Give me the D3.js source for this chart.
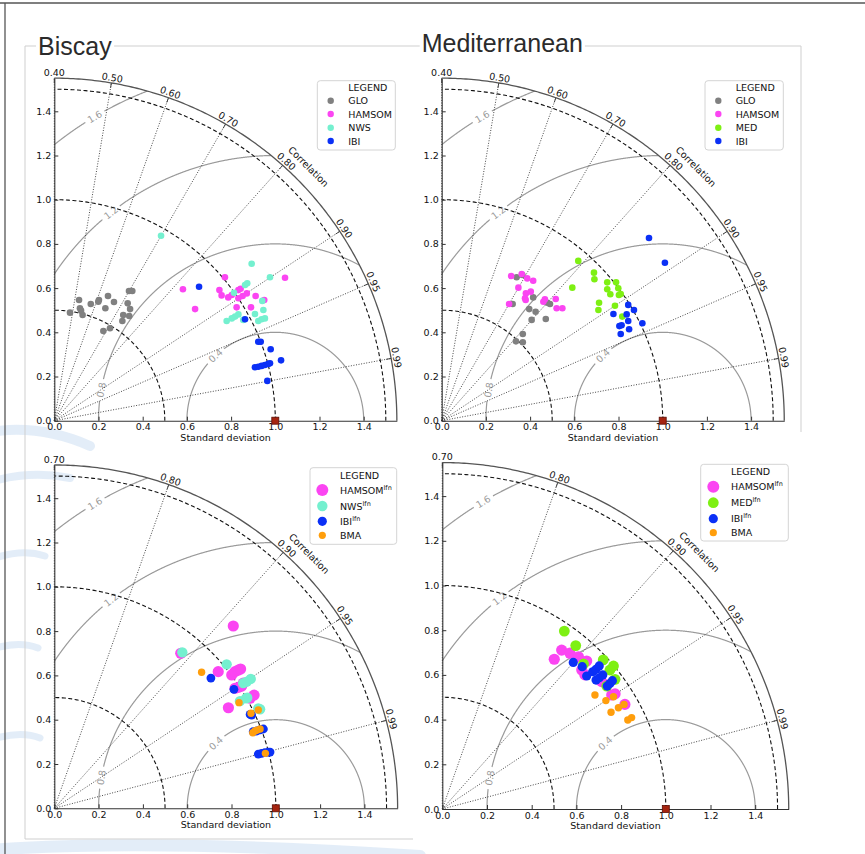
<!DOCTYPE html>
<html><head><meta charset="utf-8">
<script src="https://cdn.jsdelivr.net/npm/d3@7"></script>
<style>
body{margin:0;background:#fff}
svg{display:block}
text{font-family:"DejaVu Sans",sans-serif;fill:#111}
</style>
</head><body>
<svg id="c" width="865" height="854"></svg>
<script>
// ---------------- data (x, y read on the standard-deviation axes) ----------------
const stdTicks = [0, 0.2, 0.4, 0.6, 0.8, 1.0, 1.2, 1.4];
const stdArcs = [0.5, 1.0, 1.5];
const rmsLevels = [0.4, 0.8, 1.2, 1.6];
const corrTicksTop = [0.40, 0.50, 0.60, 0.70, 0.80, 0.90, 0.95, 0.99];
const corrTicksBottom = [0.70, 0.80, 0.90, 0.95, 0.99];

// Biscay – single models
const biscayGLO = [[0.071,0.489],[0.112,0.546],[0.116,0.509],[0.121,0.498],[0.128,0.478],[0.165,0.528],[0.199,0.538],[0.202,0.546],[0.231,0.509],[0.243,0.564],[0.270,0.537],[0.222,0.406],[0.252,0.418],[0.308,0.451],[0.312,0.478],[0.332,0.531],[0.339,0.474],[0.343,0.505],[0.338,0.587],[0.353,0.587]];
const biscayHAMSOM = [[0.582,0.595],[0.637,0.505],[0.772,0.649],[0.747,0.591],[0.757,0.567],[0.787,0.558],[0.803,0.569],[0.833,0.591],[0.843,0.597],[0.833,0.554],[0.852,0.564],[0.871,0.576],[0.911,0.564],[0.825,0.513],[0.890,0.513],[0.950,0.546],[1.044,0.647]];
const biscayNWS = [[0.483,0.837],[0.893,0.710],[0.976,0.649],[0.873,0.622],[0.863,0.614],[0.813,0.579],[0.941,0.542],[0.946,0.501],[0.908,0.483],[0.833,0.481],[0.818,0.471],[0.803,0.463],[0.780,0.451],[0.855,0.456],[0.923,0.451],[0.938,0.459],[0.953,0.463]];
const biscayIBI = [[0.655,0.606],[0.863,0.459],[0.923,0.357],[0.934,0.357],[0.979,0.323],[1.026,0.273],[0.908,0.242],[0.923,0.244],[0.938,0.248],[0.953,0.252],[0.968,0.257],[0.976,0.260],[0.964,0.180]];

// Mediterranean – single models
const medGLO = [[0.339,0.649],[0.365,0.659],[0.321,0.528],[0.414,0.558],[0.396,0.505],[0.425,0.493],[0.407,0.456],[0.471,0.460],[0.490,0.528],[0.478,0.534],[0.367,0.392],[0.336,0.359],[0.367,0.355]];
const medHAMSOM = [[0.314,0.655],[0.362,0.664],[0.387,0.644],[0.414,0.633],[0.347,0.602],[0.381,0.576],[0.403,0.584],[0.377,0.554],[0.380,0.546],[0.305,0.528],[0.467,0.549],[0.460,0.538],[0.516,0.551],[0.520,0.509],[0.546,0.509]];
const medMED = [[0.618,0.723],[0.689,0.670],[0.691,0.640],[0.591,0.602],[0.749,0.626],[0.789,0.626],[0.749,0.595],[0.763,0.572],[0.799,0.599],[0.802,0.569],[0.810,0.573],[0.712,0.534],[0.709,0.501],[0.784,0.520],[0.817,0.471]];
const medIBI = [[0.938,0.827],[1.010,0.715],[0.844,0.524],[0.870,0.501],[0.777,0.483],[0.837,0.481],[0.844,0.451],[0.908,0.441],[0.804,0.428],[0.814,0.432],[0.848,0.414],[0.810,0.392]];

// Biscay – lfn ensembles + BMA
const biscayHAMSOMlfn = [[0.808,0.823],[0.571,0.700],[0.740,0.617],[0.801,0.602],[0.816,0.617],[0.831,0.624],[0.841,0.629],[0.816,0.542],[0.831,0.546],[0.846,0.552],[0.853,0.565],[0.884,0.497],[0.902,0.511],[0.786,0.454]];
const biscayNWSlfn = [[0.578,0.704],[0.778,0.650],[0.853,0.565],[0.869,0.572],[0.887,0.584],[0.866,0.497],[0.871,0.499],[0.838,0.484],[0.929,0.447],[0.921,0.451]];
const biscayIBIlfn = [[0.707,0.588],[0.811,0.537],[0.884,0.424],[0.891,0.421],[0.898,0.346],[0.914,0.349],[0.929,0.354],[0.944,0.358],[0.921,0.245],[0.936,0.248],[0.951,0.251],[0.966,0.253],[0.974,0.254]];
const biscayBMA = [[0.665,0.614],[0.834,0.477],[0.888,0.429],[0.921,0.444],[0.896,0.341],[0.906,0.349],[0.916,0.353],[0.929,0.358],[0.953,0.248]];

// Mediterranean – lfn ensembles + BMA
const medHAMSOMlfn = [[0.501,0.670],[0.534,0.711],[0.571,0.697],[0.609,0.681],[0.646,0.662],[0.624,0.622],[0.638,0.600],[0.713,0.570],[0.758,0.510],[0.773,0.515],[0.817,0.468]];
const medMEDlfn = [[0.546,0.796],[0.597,0.731],[0.632,0.649],[0.720,0.667],[0.766,0.640],[0.750,0.622],[0.773,0.580],[0.736,0.550]];
const medIBIlfn = [[0.586,0.656],[0.626,0.637],[0.646,0.595],[0.673,0.614],[0.688,0.625],[0.702,0.640],[0.688,0.577],[0.702,0.587],[0.718,0.600],[0.738,0.550],[0.750,0.562],[0.761,0.574]];
const medBMA = [[0.683,0.510],[0.732,0.485],[0.766,0.502],[0.755,0.433],[0.788,0.453],[0.813,0.468],[0.830,0.398],[0.847,0.409]];

const refPoint = [1.0, 0.0];

// ---------------- styling / layout ----------------
const C = {GLO:"#808080", HAMSOM:"#fb45f2", NWS:"#74f0cf", MED:"#7ef013", IBI:"#0b30f6", BMA:"#ff9e0c"};
const RMAX = 1.55;

const panels = [
  {title:"Biscay", tx:38, ty:55, ox:54.3, oy:420.7, s:221, cmin:0.4, ticks:corrTicksTop,
   leg:{x:317.3,y:80.7,w:78,h:69.3,titleY:90.5,mx:330.7,tx:348.3,ys:[100.7,114,127.7,141]},
   series:[
     {name:"GLO",c:C.GLO,r:3.3,lr:3.2,d:biscayGLO},
     {name:"HAMSOM",c:C.HAMSOM,r:3.3,lr:3.2,d:biscayHAMSOM},
     {name:"NWS",c:C.NWS,r:3.3,lr:3.2,d:biscayNWS},
     {name:"IBI",c:C.IBI,r:3.3,lr:3.2,d:biscayIBI}]},
  {title:"Mediterranean", tx:421.7, ty:52, ox:441.7, oy:420.7, s:221, cmin:0.4, ticks:corrTicksTop,
   leg:{x:705,y:80.7,w:78.3,h:69.3,titleY:90.5,mx:718.3,tx:735.7,ys:[100.7,114,127.7,141]},
   series:[
     {name:"GLO",c:C.GLO,r:3.3,lr:3.2,d:medGLO},
     {name:"HAMSOM",c:C.HAMSOM,r:3.3,lr:3.2,d:medHAMSOM},
     {name:"MED",c:C.MED,r:3.3,lr:3.2,d:medMED},
     {name:"IBI",c:C.IBI,r:3.3,lr:3.2,d:medIBI}]},
  {title:null, ox:54.3, oy:808.3, s:221.5, cmin:0.7, ticks:corrTicksBottom,
   leg:{x:310,y:467.7,w:86.7,h:76.6,titleY:478.5,mx:322.3,tx:340,ys:[490,506,521.3,535.3]},
   series:[
     {name:"HAMSOM",sup:"lfn",c:C.HAMSOM,r:5.6,lr:6,d:biscayHAMSOMlfn},
     {name:"NWS",sup:"lfn",c:C.NWS,r:5.2,lr:5.2,d:biscayNWSlfn},
     {name:"IBI",sup:"lfn",c:C.IBI,r:4.4,lr:4.6,d:biscayIBIlfn},
     {name:"BMA",c:C.BMA,r:3.7,lr:3.6,d:biscayBMA}]},
  {title:null, ox:442.3, oy:809, s:223.5, cmin:0.7, ticks:corrTicksBottom,
   leg:{x:700.7,y:464.3,w:87.6,h:76.7,titleY:475.2,mx:713.3,tx:731,ys:[486.7,502.7,518.7,532.7]},
   series:[
     {name:"HAMSOM",sup:"lfn",c:C.HAMSOM,r:5.6,lr:6,d:medHAMSOMlfn},
     {name:"MED",sup:"lfn",c:C.MED,r:5.4,lr:5.4,d:medMEDlfn},
     {name:"IBI",sup:"lfn",c:C.IBI,r:4.6,lr:4.6,d:medIBIlfn},
     {name:"BMA",c:C.BMA,r:3.7,lr:3.6,d:medBMA}]}
];

const svg = d3.select("#c");

// background watermark swooshes (faint)
const wm = svg.append("g").attr("fill","none").attr("stroke","#dce8f6").attr("stroke-linecap","round");
[["M-10,432 Q40,424 90,446",10],["M-10,482 Q30,470 70,478",8],["M-10,560 Q20,548 45,556",7],
 ["M-10,650 Q18,640 38,648",7],["M-10,740 Q20,730 40,738",7],["M-10,850 Q150,838 420,856",12]]
 .forEach(p=>wm.append("path").attr("d",p[0]).attr("stroke-width",p[1]).attr("opacity",0.8));

// page frames
svg.append("line").attr("x1",0).attr("x2",865).attr("y1",3).attr("y2",3).attr("stroke","#555").attr("stroke-width",1.3);
svg.append("line").attr("x1",5).attr("x2",5).attr("y1",3).attr("y2",854).attr("stroke","#555").attr("stroke-width",1.3);
const fr = svg.append("g").attr("stroke","#cfcfcf").attr("stroke-width",1).attr("fill","none");
fr.append("path").attr("d","M25,839 L25,46 L801,46 L801,432");
fr.append("path").attr("d","M25,839 L413,839");

panels.forEach(P => {
  const g = svg.append("g");
  const x = d3.scaleLinear().domain([0, RMAX]).range([P.ox, P.ox + RMAX*P.s]);
  const y = d3.scaleLinear().domain([0, RMAX]).range([P.oy, P.oy - RMAX*P.s]);
  const theta = c => Math.acos((c - P.cmin)/(1 - P.cmin));
  const line = d3.line().x(d=>x(d[0])).y(d=>y(d[1]));
  const arcPts = (r, a0, a1, n=200) => d3.range(n+1).map(i=>{const a=a0+(a1-a0)*i/n; return [r*Math.cos(a), r*Math.sin(a)];});

  // RMS contours centred on reference
  const rmsLabelAngle = {0.4:132.6, 0.8:170, 1.2:128.3, 1.6:120.7};
  rmsLevels.forEach(R => {
    const la = rmsLabelAngle[R]*Math.PI/180;
    const gapHalf = 11/(R*P.s);
    let cur = [], segs = [];
    for (let i=0;i<=2000;i++){
      const a = Math.PI*i/2000;
      const xx = 1 + R*Math.cos(a), yy = R*Math.sin(a);
      const ok = xx>=0 && (xx*xx+yy*yy) <= RMAX*RMAX && Math.abs(a-la) > gapHalf;
      if (ok) cur.push([xx,yy]); else if (cur.length){segs.push(cur);cur=[];}
    }
    if (cur.length) segs.push(cur);
    segs.forEach(sg => g.append("path").attr("d", line(sg)).attr("fill","none").attr("stroke","#9a9a9a").attr("stroke-width",1.2));
    const lx = 1 + R*Math.cos(la), ly = R*Math.sin(la);
    g.append("text").attr("transform",`translate(${x(lx)},${y(ly)}) rotate(${-(rmsLabelAngle[R]-90)})`)
      .attr("text-anchor","middle").attr("dominant-baseline","central")
      .style("fill","#9a9a9a").style("font-size","9.5px").text(d3.format(".1f")(R));
  });

  // correlation rays
  P.ticks.forEach(c => {
    const t = theta(c);
    g.append("line").attr("x1",x(0)).attr("y1",y(0)).attr("x2",x(RMAX*Math.cos(t))).attr("y2",y(RMAX*Math.sin(t)))
      .attr("stroke","#333").attr("stroke-width",0.9).attr("stroke-dasharray","1,1.6");
  });

  // std dev dashed arcs
  stdArcs.forEach(r => g.append("path").attr("d", line(arcPts(r,0,Math.PI/2)))
    .attr("fill","none").attr("stroke","#111").attr("stroke-width",1.1).attr("stroke-dasharray","4,2.5"));

  // outer arc
  g.append("path").attr("d", line(arcPts(RMAX,0,Math.PI/2))).attr("fill","none").attr("stroke","#555").attr("stroke-width",1.3);

  // correlation ticks + labels
  P.ticks.forEach(c => {
    const t = theta(c);
    const r1 = RMAX, r0 = RMAX - 5/P.s;
    g.append("line").attr("x1",x(r0*Math.cos(t))).attr("y1",y(r0*Math.sin(t))).attr("x2",x(r1*Math.cos(t))).attr("y2",y(r1*Math.sin(t)))
      .attr("stroke","#444").attr("stroke-width",1);
    const rl = 1.575;
    g.append("text").attr("transform",`translate(${x(rl*Math.cos(t))},${y(rl*Math.sin(t))}) rotate(${90 - t*180/Math.PI})`)
      .attr("text-anchor","middle").attr("dominant-baseline","central").style("font-size","9.5px").text(d3.format(".2f")(c));
  });
  const tc = Math.PI/4, rc = 1.627;
  g.append("text").attr("transform",`translate(${x(rc*Math.cos(tc))},${y(rc*Math.sin(tc))}) rotate(45)`)
    .attr("text-anchor","middle").attr("dominant-baseline","central").style("font-size","9.5px").text("Correlation");

  // axes
  const ax = g.append("g").attr("transform",`translate(0,${P.oy})`)
    .call(d3.axisBottom(x).tickValues(stdTicks).tickFormat(d3.format(".1f")).tickSizeInner(-4).tickSizeOuter(0).tickPadding(3));
  const ay = g.append("g").attr("transform",`translate(${P.ox},0)`)
    .call(d3.axisLeft(y).tickValues(stdTicks).tickFormat(d3.format(".1f")).tickSizeInner(-4).tickSizeOuter(0).tickPadding(3));
  [ax, ay].forEach(a => {
    a.select(".domain").attr("stroke","#333").attr("stroke-width",1.1);
    a.selectAll(".tick line").attr("stroke","#333");
    a.selectAll(".tick text").style("font-size","9.5px").style("font-family","DejaVu Sans").attr("fill","#111");
  });
  g.append("text").attr("x", x(0.775)).attr("y", P.oy + 20).attr("text-anchor","middle").style("font-size","9.5px").text("Standard deviation");

  // points
  P.series.forEach(S => {
    g.append("g").selectAll("circle").data(S.d).join("circle")
      .attr("cx", d=>x(d[0])).attr("cy", d=>y(d[1])).attr("r", S.r).attr("fill", S.c);
  });

  // reference point
  const rs = 7;
  g.append("rect").attr("x", x(refPoint[0])-rs/2).attr("y", y(refPoint[1])-rs/2).attr("width",rs).attr("height",rs)
    .attr("fill","#a52410").attr("stroke","#5a0d04").attr("stroke-width",0.8);

  // legend
  const L = P.leg;
  const lg = g.append("g");
  lg.append("rect").attr("x",L.x).attr("y",L.y).attr("width",L.w).attr("height",L.h).attr("rx",3)
    .attr("fill","#fff").attr("stroke","#d4d4d4").attr("stroke-width",1);
  lg.append("text").attr("x",L.tx).attr("y",L.titleY).style("font-size","9.5px").text("LEGEND");
  P.series.forEach((S,i) => {
    lg.append("circle").attr("cx",L.mx).attr("cy",L.ys[i]).attr("r",S.lr).attr("fill",S.c);
    const t = lg.append("text").attr("x",L.tx).attr("y",L.ys[i]+3.5).style("font-size","9.5px").text(S.name);
    if (S.sup) t.append("tspan").attr("dy",-4).style("font-size","6.5px").text(S.sup);
  });

  // title
  if (P.title) {
    const tt = svg.append("text").attr("x",P.tx).attr("y",P.ty)
      .style("font-family","'Liberation Sans',Arial,sans-serif").style("font-size","25px").style("fill","#2b2b2b").text(P.title);
    const bb = tt.node().getBBox();
    svg.insert("rect", () => tt.node()).attr("x",bb.x-2).attr("y",bb.y+4).attr("width",bb.width+4).attr("height",bb.height-6).attr("fill","#fff");
  }
});
</script>
</body></html>
